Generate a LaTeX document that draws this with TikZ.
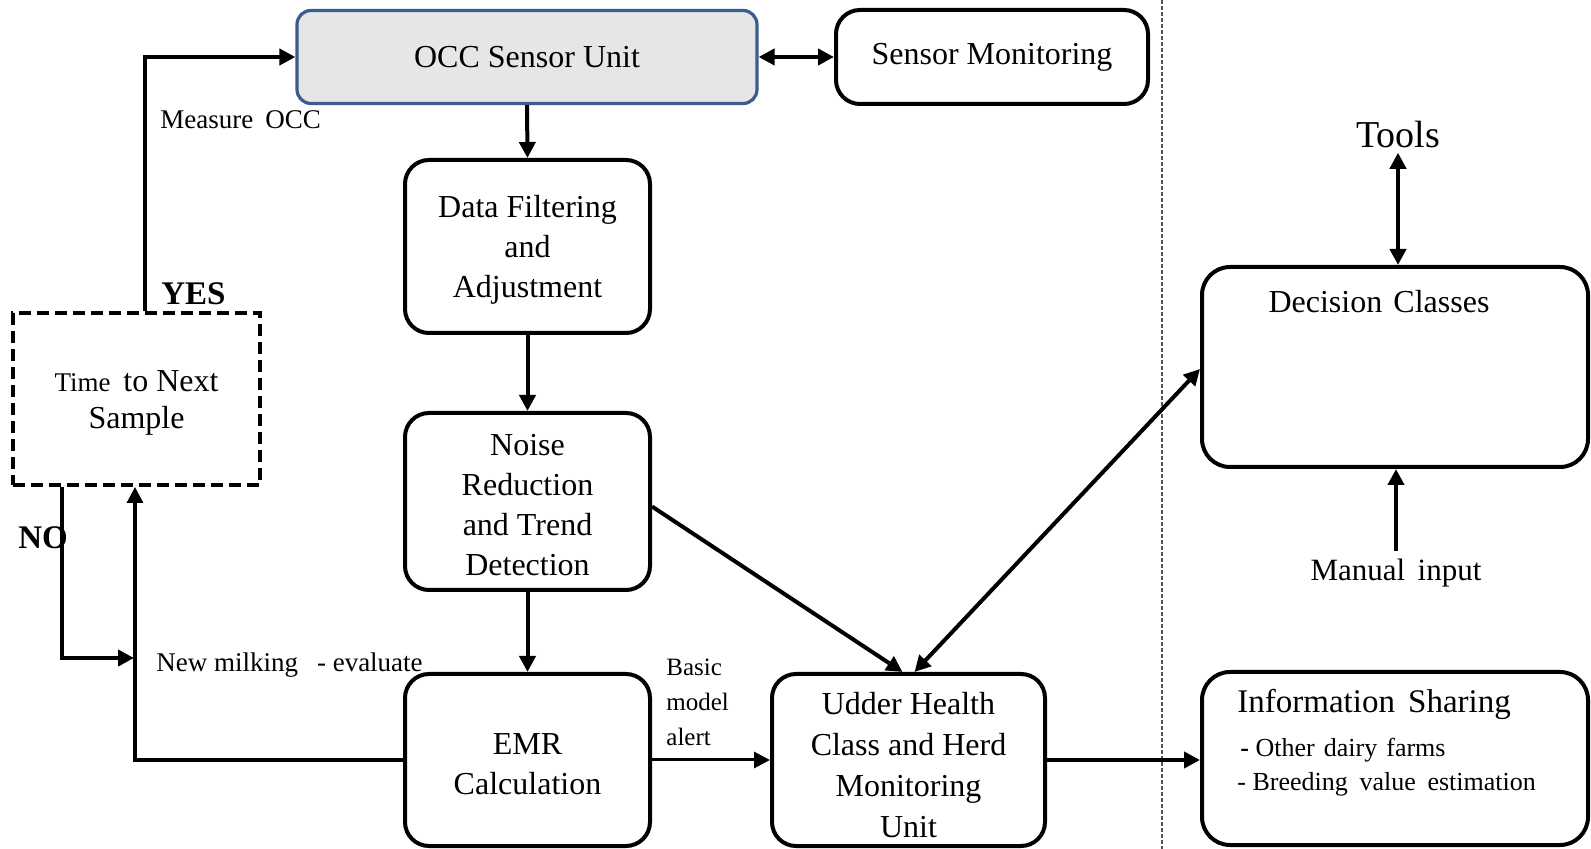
\documentclass[tikz,border=0pt]{standalone}
\usepackage{fontspec}
\setmainfont{Liberation Serif}
\usetikzlibrary{arrows.meta,calc}
\definecolor{occblue}{HTML}{3B5C8F}
\definecolor{occfill}{HTML}{E6E6E6}
\definecolor{sepgray}{HTML}{555555}
\begin{document}
\begin{tikzpicture}[x=0.5pt,y=-0.5pt,
  box/.style={draw, line width=2pt, rounded corners=12pt, align=center, inner sep=0pt, font=\fontsize{16}{20}\selectfont},
  boxtext/.style={inner sep=0pt, align=center, font=\fontsize{16}{20}\selectfont},
  tip/.style={-{Triangle[length=8pt,width=8pt]}},
  arr/.style={line width=2pt, -{Triangle[length=8pt,width=8pt]}},
  darr/.style={line width=2pt, {Triangle[length=8pt,width=8pt]}-{Triangle[length=8pt,width=8pt]}},
  lbl/.style={inner sep=0pt, align=left, font=\fontsize{13.5}{17}\selectfont},
  yn/.style={inner sep=0pt, font=\bfseries\fontsize{16.5}{20}\selectfont},
]
\useasboundingbox (0,0) rectangle (1591,849);

% separator
\draw[sepgray, line width=0.6pt, dash pattern=on 2pt off 1pt] (1162,0) -- (1162,849);

% boxes
\node[box, fill=occfill, draw=occblue, line width=1.6pt, rounded corners=7pt,
      minimum width=230pt, minimum height=46.5pt] (occ) at (527,57) {OCC Sensor Unit};
\node[box, minimum width=156pt, minimum height=47pt] (sm) at (992,57) {Sensor Monitoring};
\node[box, minimum width=122.5pt, minimum height=86.5pt] (df) at (527.5,246.5) {};
\node[boxtext] (dft) at (527.5,250) {Data Filtering\\and\\Adjustment};
\node[box, minimum width=122.5pt, minimum height=88.5pt] (nr) at (527.5,501.5) {};
\node[boxtext] (nrt) at (527.5,505) {Noise\\Reduction\\and Trend\\Detection};
\node[box, minimum width=122.5pt, minimum height=86pt] (emr) at (527.5,760) {};
\node[boxtext] (emrt) at (527.5,764) {EMR\\Calculation};
\node[box, minimum width=136.5pt, minimum height=86pt] (uh) at (908.5,760) {};
\node[boxtext, font=\fontsize{16}{20.5}\selectfont] (uht) at (908.5,765) {Udder Health\\Class and Herd\\Monitoring\\Unit};
\node[box, minimum width=193pt, minimum height=100pt, rounded corners=14pt] (dc) at (1395,367) {};
\node[inner sep=0pt, font=\fontsize{16}{20}\selectfont] (dct) at (1379,302) {Decision\hspace{0.35em}Classes};
\node[box, minimum width=193pt, minimum height=86.5pt, rounded corners=14pt] (is) at (1395,758.5) {};
\node[anchor=base west, inner sep=0pt, font=\fontsize{16.5}{20}\selectfont] (is1) at (1237,712) {Information\hspace{0.4em}Sharing};
\node[anchor=base west, inner sep=0pt, font=\fontsize{13}{17}\selectfont] (is2) at (1240,756) {\textbf{-} Other\hspace{0.35em}dairy\hspace{0.35em}farms};
\node[anchor=base west, inner sep=0pt, font=\fontsize{13}{17}\selectfont] (is3) at (1237,791) {- Breeding\hspace{0.45em}value\hspace{0.45em}estimation};

\node[draw, line width=2pt, dash pattern=on 6pt off 3pt, minimum width=123.5pt, minimum height=86pt,
      inner sep=0pt] (tn) at (136.5,399) {};
\node[boxtext, font=\fontsize{16}{18.5}\selectfont] (tnt) at (136.5,403)
      {{\fontsize{13.5}{18.5}\selectfont Time}\hspace{0.4em}to Next\\Sample};

\node[inner sep=2pt, font=\fontsize{19}{23}\selectfont] (tools) at (1398,135) {Tools};
\node[inner sep=4pt, font=\fontsize{15.5}{19}\selectfont] (mi) at (1396,573) {Manual\hspace{0.4em}input};

% labels
\node[lbl, anchor=west] (meas) at (160,120) {Measure\hspace{0.45em}OCC};
\node[yn, anchor=west] (yes) at (161,294) {YES};
\node[yn, anchor=west] (no) at (18,538) {NO};
\node[lbl, anchor=west] (newm) at (156,665) {New milking\hspace{0.7em}- evaluate};
\node[inner sep=0pt, anchor=north west, align=left, font=\fontsize{12.5}{17.5}\selectfont] (bma) at (666,659) {Basic\\model\\alert};

% connectors
\coordinate (yx) at (145,0);
\coordinate (nx) at (62,0);
\coordinate (nend) at (134,658);
\coordinate (ux) at (135,0);

\draw[arr] (tn.north -| yx) |- (occ.west);
\draw[arr] (tn.south -| nx) |- (nend);
\draw[line width=1.6pt, tip] (emr.west) -| (tn.south -| ux);

\draw[darr] (occ.east) -- (sm.west);
\draw[arr] (occ.south) -- (df.north);
\draw[arr] (df.south) -- (nr.north);
\draw[arr] (nr.south) -- (emr.north);
\draw[arr] ([yshift=-2.5pt]nr.east) -- ([xshift=-3pt]uh.north);
\draw[darr] ([xshift=3pt]uh.north) -- ([yshift=-1pt]dc.west);
\draw[line width=1.5pt, tip] (emr.east) -- (uh.west);
\draw[arr] (uh.east) -- (uh.east -| is.west);
\draw[darr] (tools.south) -- (tools.south |- dc.north);
\draw[arr] (mi.north) -- (mi.north |- dc.south);
\end{tikzpicture}
\end{document}
